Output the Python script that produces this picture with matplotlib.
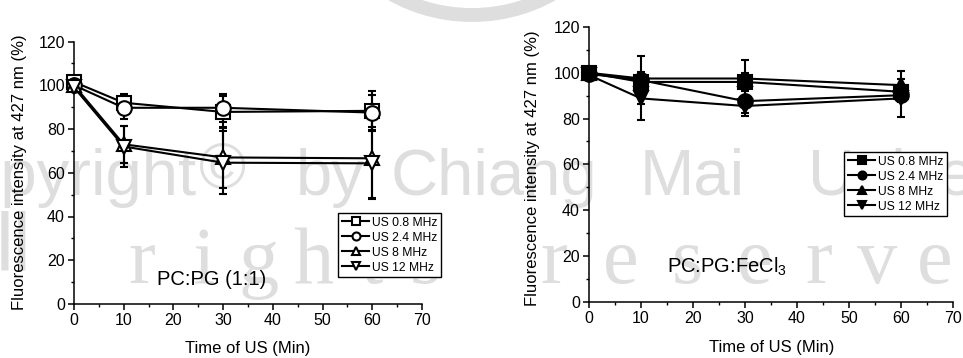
import matplotlib
matplotlib.use("Agg")
import matplotlib.pyplot as plt
from matplotlib.ticker import MultipleLocator
from matplotlib.patches import Arc

plt.rcParams['font.family'] = ['Liberation Sans', 'DejaVu Sans']
plt.rcParams['mathtext.fontset'] = 'custom'
plt.rcParams['mathtext.rm'] = 'Liberation Sans'
plt.rcParams['mathtext.it'] = 'Liberation Sans:italic'

# ---- data -------------------------------------------------------------
time_min = [0, 10, 30, 60]
series_labels = ["US 0.8 MHz", "US 2.4 MHz", "US 8 MHz", "US 12 MHz"]
series_markers = ["s", "o", "^", "v"]

# PC:PG (1:1) liposomes
pcpg_08 = [101.5, 92.0, 87.8, 88.3]
pcpg_08_err = [1.0, 4.0, 7.5, 9.0]
pcpg_24 = [100.0, 89.7, 89.7, 87.5]
pcpg_24_err = [1.0, 5.2, 6.5, 8.0]
pcpg_8 = [100.0, 73.0, 67.0, 66.6]
pcpg_8_err = [1.0, 8.5, 14.0, 18.0]
pcpg_12 = [99.0, 72.0, 64.6, 64.3]
pcpg_12_err = [1.0, 9.2, 14.5, 16.5]

# PC:PG:FeCl3 liposomes
fe_08 = [100.0, 96.0, 96.0, 91.7]
fe_08_err = [1.0, 4.0, 4.0, 3.0]
fe_24 = [99.5, 96.8, 87.6, 90.2]
fe_24_err = [1.0, 10.5, 5.0, 3.0]
fe_8 = [100.0, 97.5, 97.5, 94.6]
fe_8_err = [1.0, 3.0, 8.3, 6.0]
fe_12 = [99.0, 88.8, 85.5, 88.8]
fe_12_err = [1.0, 9.5, 4.5, 8.3]

x_ticks = [0, 10, 20, 30, 40, 50, 60, 70]
y_ticks = [0, 20, 40, 60, 80, 100, 120]

W, H = 963, 358
fig = plt.figure(figsize=(W / 100, H / 100), dpi=100)


def fx(px):
    return px / W


def fy(py):
    return 1 - py / H


# ---- faint background watermark ---------------------------------------
wm = dict(color="#dedede", fontsize=47, zorder=-5, va="baseline")
fig.text(fx(197), fy(195), "Copyright", ha="right", **wm)
fig.text(fx(223), fy(188), "\u00a9", ha="center", **{**wm, "fontsize": 46})
fig.text(fx(296), fy(195), "by", ha="left", **wm)
fig.text(fx(391), fy(195), "Chiang", ha="left", **wm)
fig.text(fx(640), fy(195), "Mai", ha="left", **wm)
fig.text(fx(808), fy(195), "University", ha="left", **wm)
row3 = [("r", 128), ("i", 192), ("g", 238), ("h", 293), ("t", 360), ("s", 410),
        ("r", 540), ("e", 603), ("s", 672), ("e", 737), ("r", 805), ("v", 857),
        ("e", 917)]
for ch, px in row3:
    fig.text(fx(px), fy(283), ch, ha="left",
             **{**wm, "family": "Liberation Serif", "fontsize": 58})
fig.text(fx(-4), fy(270), "ll", ha="left", **{**wm, "fontsize": 58})
arc = Arc((fx(472), fy(-120)), width=fx(300), height=(270 / H),
          theta1=210, theta2=330, transform=fig.transFigure,
          color="#dedede", lw=10, zorder=-5)
fig.patches.append(arc)


def style_axes(ax):
    ax.set_facecolor("none")
    ax.set_xlim(0, 70)
    ax.set_ylim(0, 120)
    ax.set_xticks(x_ticks)
    ax.set_yticks(y_ticks)
    ax.xaxis.set_minor_locator(MultipleLocator(5))
    ax.yaxis.set_minor_locator(MultipleLocator(10))
    for side in ("top", "right"):
        ax.spines[side].set_visible(False)
    for side in ("left", "bottom"):
        ax.spines[side].set_linewidth(1.1)
    ax.tick_params(which="major", direction="out", length=4.5, width=1.1,
                   labelsize=11.5, pad=2)
    ax.tick_params(which="minor", direction="out", length=2.5, width=1.0)


def draw_panel(ax, series, errs, filled):
    handles = []
    for vals, err, mk, lab in zip(series, errs, series_markers, series_labels):
        cont = ax.errorbar(time_min, vals, yerr=err, fmt="-", marker=mk,
                           color="black", mfc="black" if filled else "white",
                           mec="black", ms=10.5, mew=1.5, lw=1.5,
                           elinewidth=1.5, capsize=3, capthick=1.5,
                           label=lab, clip_on=False, zorder=3)
        for art in cont.get_children():
            art.set_clip_on(False)
        handles.append(cont[0])
    return handles


# ---- left panel: PC:PG (1:1) ------------------------------------------
ax1 = fig.add_axes([fx(74), fy(304), fx(422) - fx(74), fy(41.5) - fy(304)])
style_axes(ax1)
h1 = draw_panel(ax1, [pcpg_08, pcpg_24, pcpg_8, pcpg_12],
                [pcpg_08_err, pcpg_24_err, pcpg_8_err, pcpg_12_err], filled=False)

# ---- right panel: PC:PG:FeCl3 -----------------------------------------
ax2 = fig.add_axes([fx(589), fy(301.7), fx(952.7) - fx(589), fy(27) - fy(301.7)])
style_axes(ax2)
h2 = draw_panel(ax2, [fe_08, fe_24, fe_8, fe_12],
                [fe_08_err, fe_24_err, fe_8_err, fe_12_err], filled=True)

leg_kw = dict(fontsize=8.7, markerscale=0.55, handlelength=2.3,
              handletextpad=0.25, labelspacing=0.25, borderpad=0.3,
              borderaxespad=0, fancybox=False, edgecolor="black",
              facecolor="white", framealpha=1, loc="upper left")
lg1 = ax1.legend(h1, series_labels, bbox_to_anchor=(fx(338), fy(213)),
                 bbox_transform=fig.transFigure, **leg_kw)
lg2 = ax2.legend(h2, series_labels, bbox_to_anchor=(fx(844), fy(152)),
                 bbox_transform=fig.transFigure, **leg_kw)
for lg in (lg1, lg2):
    lg.get_frame().set_linewidth(1.0)
    lg.set_zorder(5)

# ---- texts --------------------------------------------------------------
fig.text(fx(157), fy(285), "PC:PG (1:1)", fontsize=14.5, ha="left", va="baseline")
fig.text(fx(667), fy(273), "PC:PG:FeCl$_3$", fontsize=14.5, ha="left", va="baseline")

ylab = "Fluorescence intensity at 427 nm (%)"
fig.text(fx(20), fy(172), ylab, rotation=90, fontsize=12, ha="center", va="center")
fig.text(fx(532), fy(168), ylab, rotation=90, fontsize=12, ha="center", va="center")
fig.text(fx(248), fy(348.5), "Time of US (Min)", fontsize=12, ha="center", va="center")
fig.text(fx(772), fy(347.5), "Time of US (Min)", fontsize=12, ha="center", va="center")

fig.savefig("out.png", dpi=100)
